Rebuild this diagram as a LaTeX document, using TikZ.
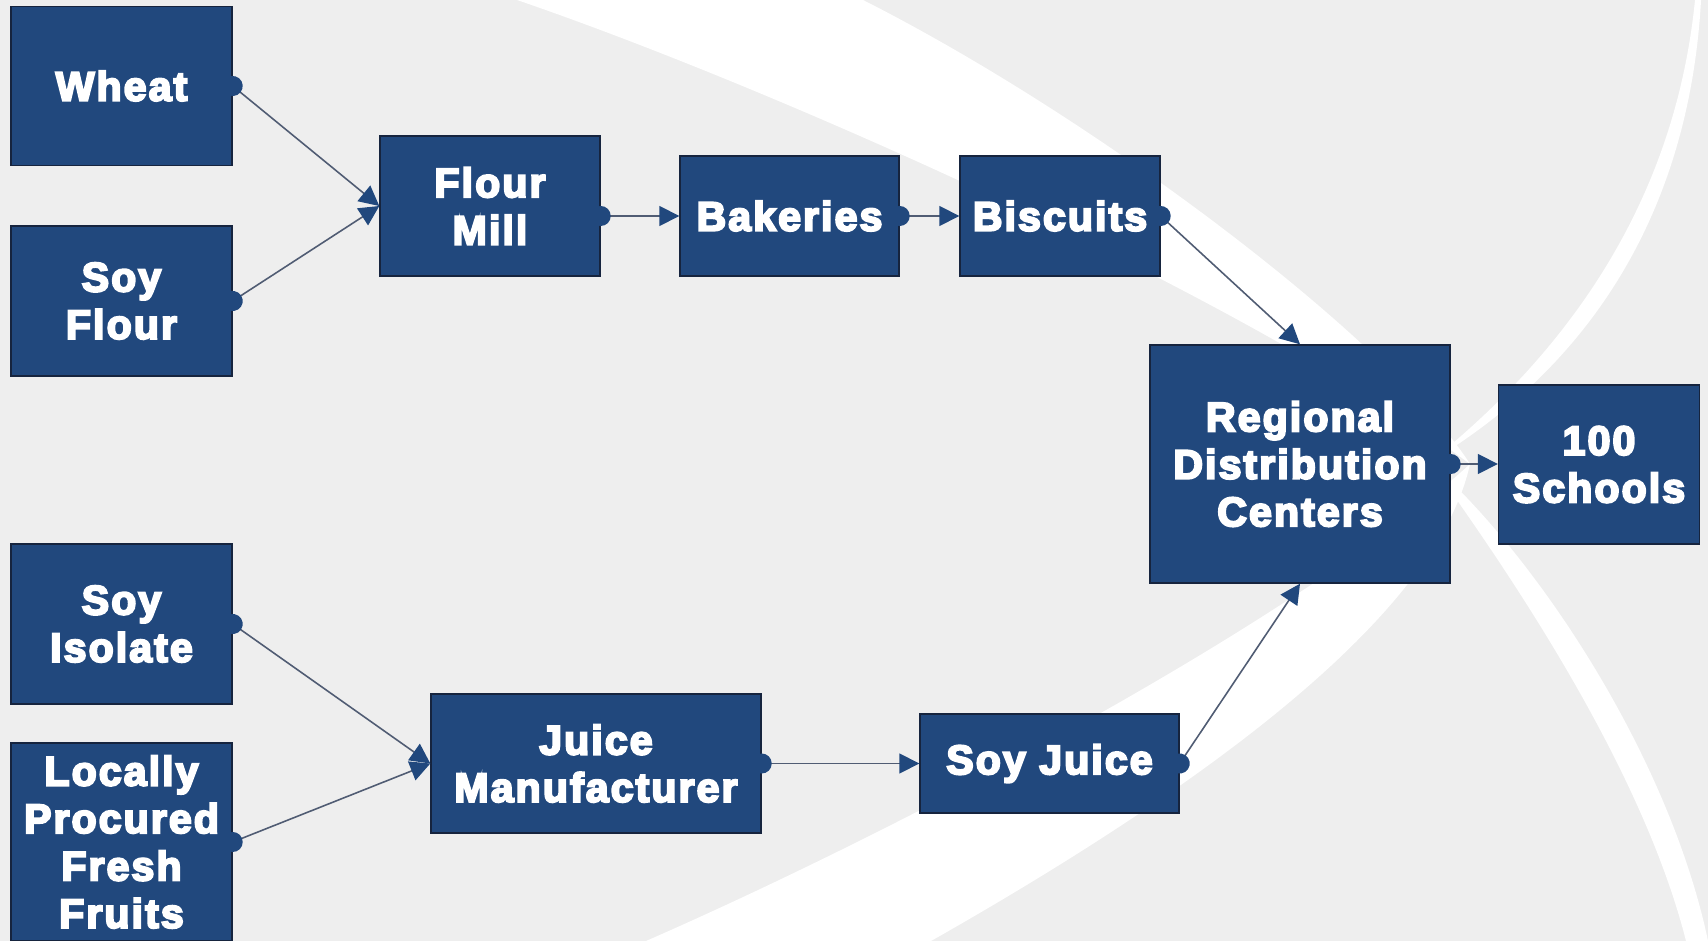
\documentclass[tikz,border=0pt]{standalone}
\usepackage{fontspec}
\usepackage{tikz}
\usetikzlibrary{arrows.meta}
\newfontfamily\boxfont{Liberation Sans Bold}[FakeStretch=1.0,LetterSpace=5,FakeBold=5]
\definecolor{boxblue}{RGB}{33,72,125}
\definecolor{boxedge}{RGB}{22,36,62}
\definecolor{linkgray}{RGB}{80,92,115}
\definecolor{backgray}{RGB}{238,238,238}

\begin{document}
\begin{tikzpicture}[x=0.1mm,y=-0.1mm]
			\tikzstyle{supply_node}= [draw=boxedge,fill=boxblue,text=white,line width=0.4pt,align=center,inner sep=0pt,font=\boxfont\fontsize{11.7}{13.5}\selectfont]
			\tikzstyle{flow}= [draw=linkgray,line width=0.45pt,{Circle[length=2mm,color=boxblue]}-{Triangle[length=2mm,width=2mm,color=boxblue]},shorten <=-1mm]
			\useasboundingbox (0,0) rectangle (1708,941);
			\fill[backgray] (0,0) rectangle (1708,941);
			\fill[white] (517,0) .. controls (780,90) and (1250,300) .. (1470,464) .. controls (1390,340) and (1100,120) .. (863,0) -- cycle;
			\fill[white] (646,941) .. controls (900,830) and (1300,620) .. (1470,464) .. controls (1440,600) and (1250,760) .. (931,941) -- cycle;
			\fill[white] (1695,0) .. controls (1675,200) and (1570,350) .. (1430,462) .. controls (1600,360) and (1690,200) .. (1701,0) -- cycle;
			\fill[white] (1430,462) .. controls (1500,560) and (1640,760) .. (1686,941) -- (1708,941) .. controls (1670,760) and (1540,560) .. (1430,462) -- cycle;
			\node [supply_node,minimum width=22.1mm,minimum height=15.9mm] (wh) at (121.5,86) {Wheat};
			\node [supply_node,minimum width=22.1mm,minimum height=15mm] (sf) at (121.5,301) {Soy\\Flour};
			\node [supply_node,minimum width=22mm,minimum height=14mm] (fm) at (490,206) {Flour\\Mill};
			\node [supply_node,minimum width=21.9mm,minimum height=12mm] (bk) at (789.5,216) {Bakeries};
			\node [supply_node,minimum width=20mm,minimum height=12mm] (bis) at (1060,216) {Biscuits};
			\node [supply_node,minimum width=30mm,minimum height=23.8mm] (rdc) at (1300,464) {Regional\\Distribution\\Centers};
			\node [supply_node,minimum width=20.1mm,minimum height=15.9mm] (sch) at (1599,464.5) {100\\Schools};
			\node [supply_node,minimum width=22.1mm,minimum height=16mm] (si) at (121.5,624) {Soy\\Isolate};
			\node [supply_node,minimum width=22.1mm,minimum height=19.8mm] (lp) at (121.5,842) {Locally\\Procured\\Fresh\\Fruits};
			\node [supply_node,minimum width=33mm,minimum height=13.9mm] (jm) at (596,763.5) {Juice\\Manufacturer};
			\node [supply_node,minimum width=25.9mm,minimum height=9.9mm] (sj) at (1049.5,763.5) {Soy Juice};
			\draw[flow] (wh.east) -- (fm.west);
			\draw[flow] (sf.east) -- (fm.west);
			\draw[flow] (fm.east |- bk.west) -- (bk.west);
			\draw[flow] (bk.east) -- (bis.west);
			\draw[flow] (bis.east) -- (rdc.north);
			\draw[flow] (rdc.east) -- (sch.west |- rdc.east);
			\draw[flow] (si.east) -- (jm.west);
			\draw[flow] (lp.east) -- (jm.west);
			\draw[flow] (jm.east) -- (sj.west);
			\draw[flow] (sj.east) -- (rdc.south);
		\end{tikzpicture}
\end{document}
